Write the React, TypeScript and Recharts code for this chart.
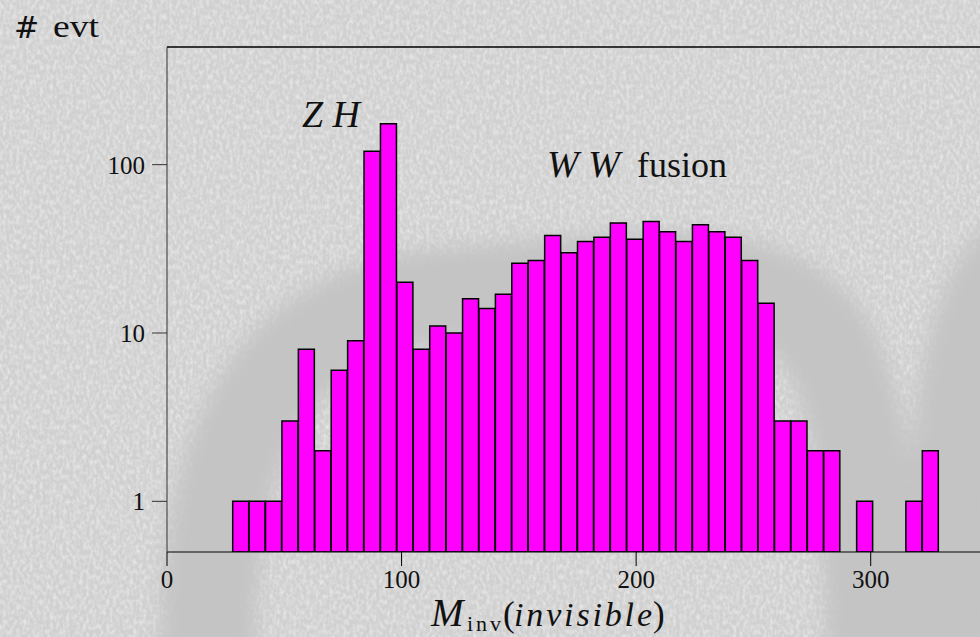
import React from 'react'
import {
  ComposedChart,
  Bar,
  XAxis,
  YAxis,
  ReferenceLine,
} from 'recharts'

// histogram of M_inv(invisible), bins of 7 starting at 0
const binWidth = 7
const counts = [
  0, 0, 0, 0, 1, 1, 1, 3, 8, 2, 6, 9, 120, 175, 20, 8, 11, 10, 16, 14, 17, 26, 27, 38,
  30, 35, 37, 45, 36, 46, 40, 35, 44, 40, 37, 27, 15, 3, 3, 2, 2, 0, 1, 0, 0, 1, 2,
]
const xTicks = [0, 100, 200, 300]
const yTicks = [1, 10, 100]
const xDomain = [0, 350]
const yDomain = [0.5, 500]

const chartData = counts.map((c, i) => ({
  mass: i * binWidth + binWidth / 2,
  events: c > 0 ? c : null,
}))

const serif = '"Liberation Serif", "DejaVu Serif", serif'

function Backdrop() {
  return (
    <svg width={980} height={637} style={{ position: 'absolute', left: 0, top: 0 }}>
      <defs>
        <filter id="grain" x="0" y="0" width="100%" height="100%">
          <feTurbulence type="fractalNoise" baseFrequency="0.3 0.2" numOctaves={2} seed={3} />
          <feColorMatrix
            type="matrix"
            values="0 0 0 0 1  0 0 0 0 1  0 0 0 0 1  1.2 0 0 0 -0.45"
          />
        </filter>
        <filter id="soft" x="-20%" y="-20%" width="140%" height="140%">
          <feGaussianBlur stdDeviation="10" />
        </filter>
      </defs>
      <rect width={980} height={637} fill="#d0d0d0" />
      <rect width={980} height={637} filter="url(#grain)" opacity={0.8} />
      <g filter="url(#soft)" stroke="#c4c4c4" fill="none" strokeWidth={95}>
        <path d="M 208 680 C 203 440, 270 310, 450 295 C 620 282, 775 250, 830 350 C 865 420, 872 520, 874 680" />
        <path d="M 1030 250 C 975 290, 950 400, 952 680" />
      </g>
    </svg>
  )
}

function Annotations() {
  return (
    <svg
      width={980}
      height={637}
      style={{ position: 'absolute', left: 0, top: 0, pointerEvents: 'none' }}
      fontFamily={serif}
      fill="#111"
    >
      <text x={14} y={38} fontSize={30} fontFamily='"DejaVu Serif", serif' fontWeight={300}>
        #
      </text>
      <text x={53} y={37} fontSize={31} textLength={46} lengthAdjust="spacingAndGlyphs">
        evt
      </text>
      <text x={302} y={127} fontSize={38} fontStyle="italic" textLength={58} lengthAdjust="spacing">
        ZH
      </text>
      <text x={547} y={177} fontSize={38} fontStyle="italic" textLength={73} lengthAdjust="spacing">
        WW
      </text>
      <text x={637} y={177} fontSize={36}>fusion</text>
      <text x={431} y={626} fontSize={39} fontStyle="italic">
        M
      </text>
      <text x={467} y={631} fontSize={22} textLength={34} lengthAdjust="spacing">
        inv
      </text>
      <text x={503} y={626} fontSize={35}>(</text>
      <text x={514} y={626} fontSize={34} fontStyle="italic" textLength={138} lengthAdjust="spacing">
        invisible
      </text>
      <text x={653} y={626} fontSize={35}>)</text>
    </svg>
  )
}

export default function App() {
  const tickStyle = { fontFamily: serif, fontSize: 25, fill: '#111' }
  return (
    <div
      style={{
        position: 'absolute',
        left: 0,
        top: 0,
        width: 980,
        height: 637,
        overflow: 'hidden',
      }}
    >
      <Backdrop />
      <div style={{ position: 'absolute', left: 0, top: 0 }}>
        <ComposedChart
          width={988}
          height={637}
          data={chartData}
          margin={{ top: 47, right: 0, bottom: 45, left: 0 }}
          barCategoryGap={0}
          barGap={0}
        >
          <XAxis
            dataKey="mass"
            type="number"
            domain={xDomain}
            ticks={xTicks}
            allowDataOverflow
            height={40}
            tickSize={14}
            tickMargin={4}
            stroke="#000"
            tick={tickStyle}
          />
          <YAxis
            scale="log"
            domain={yDomain}
            ticks={yTicks}
            allowDataOverflow
            width={167}
            tickSize={15}
            tickMargin={7}
            stroke="#333"
            tick={tickStyle}
          />
          <ReferenceLine y={500} stroke="#000" strokeWidth={1.5} />
          <Bar
            dataKey="events"
            fill="#ff00ff"
            stroke="#000"
            strokeWidth={1.5}
            isAnimationActive={false}
          />
        </ComposedChart>
      </div>
      <Annotations />
    </div>
  )
}
